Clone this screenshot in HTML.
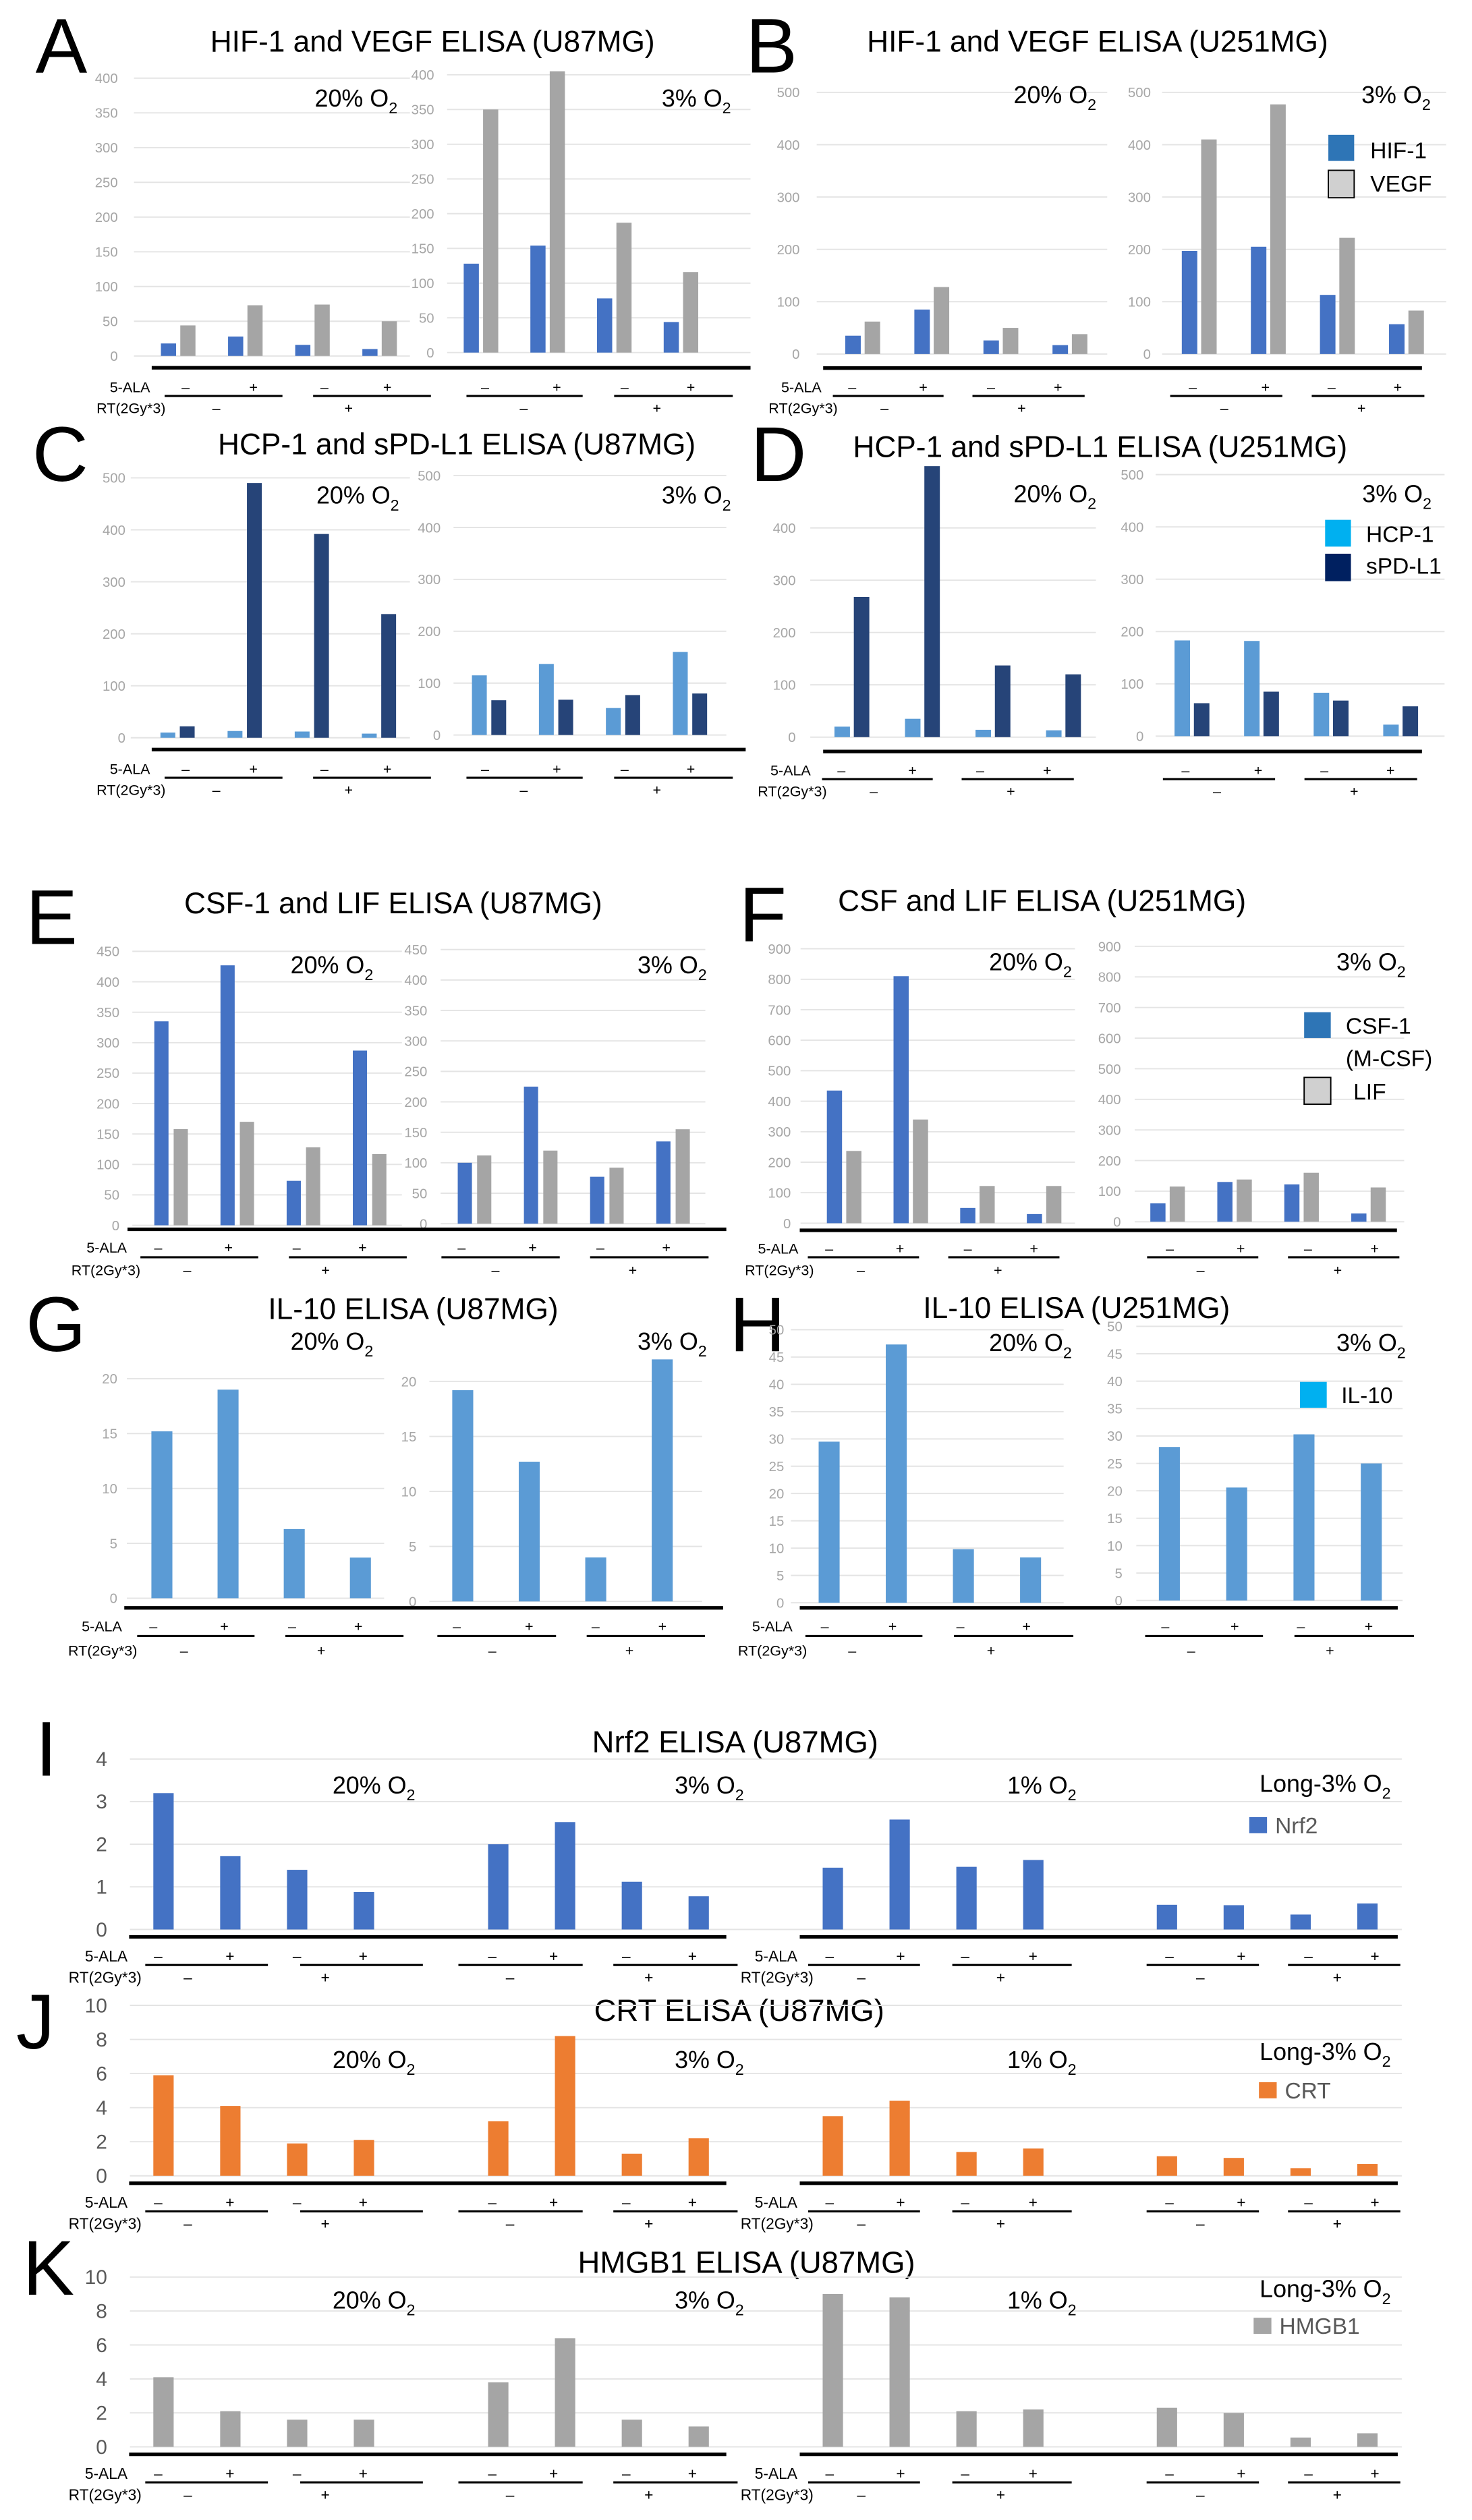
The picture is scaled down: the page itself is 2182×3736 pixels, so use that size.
<!DOCTYPE html>
<html><head><meta charset="utf-8"><style>
html,body{margin:0;padding:0;background:#fff;}
svg{display:block;font-family:"Liberation Sans",sans-serif;}
</style></head><body>
<svg id="fig" xmlns="http://www.w3.org/2000/svg" width="2182" height="3736" viewBox="0 0 912 1561" preserveAspectRatio="none"></svg>
<script>
// ---- data ----
const groupCategories = ["5-ALA- RT-","5-ALA+ RT-","5-ALA- RT+","5-ALA+ RT+"];
const aHif20 = [18,28,16,10];   const aVegf20 = [44,73,74,50];
const aHif3 = [128,154,78,44];  const aVegf3 = [350,405,187,116];
const bHif20 = [35,85,26,17];   const bVegf20 = [62,128,50,38];
const bHif3 = [197,205,113,57]; const bVegf3 = [410,477,222,83];
const cHcp20 = [10,13,12,8];    const cPd20 = [22,490,392,238];
const cHcp3 = [115,137,52,160]; const cPd3 = [67,68,77,80];
const dHcp20 = [20,35,14,13];   const dPd20 = [268,518,137,120];
const dHcp3 = [183,182,83,22];  const dPd3 = [63,85,68,57];
const eCsf20 = [335,427,73,287];const eLif20 = [158,170,128,117];
const eCsf3 = [100,225,77,135]; const eLif3 = [112,120,92,155];
const fCsf20 = [435,810,50,30]; const fLif20 = [237,340,122,122];
const fCsf3 = [60,130,122,27];  const fLif3 = [115,138,160,112];
const gIl20 = [15.2,19,6.3,3.7];const gIl3 = [19.2,12.7,4,22];
const hIl20 = [29.5,47.3,9.8,8.3]; const hIl3 = [28,20.6,30.3,25];
const iNrf20 = [3.2,1.72,1.4,0.88]; const iNrf3 = [2,2.52,1.12,0.78];
const iNrf1 = [1.45,2.58,1.47,1.63]; const iNrfL = [0.58,0.57,0.35,0.61];
const jCrt20 = [5.9,4.1,1.9,2.1]; const jCrt3 = [3.2,8.2,1.3,2.2];
const jCrt1 = [3.5,4.4,1.4,1.6]; const jCrtL = [1.15,1.05,0.45,0.7];
const kHm20 = [4.1,2.1,1.6,1.6]; const kHm3 = [3.8,6.4,1.6,1.2];
const kHm1 = [9,8.8,2.1,2.2];   const kHmL = [2.3,2,0.55,0.8];
const ticks400 = [0,50,100,150,200,250,300,350,400];
const ticks500 = [0,100,200,300,400,500];
const ticksD = [0,100,200,300,400];
const ticks450 = [0,50,100,150,200,250,300,350,400,450];
const ticks900 = [0,100,200,300,400,500,600,700,800,900];
const ticks20 = [0,5,10,15,20];
const ticks50 = [0,5,10,15,20,25,30,35,40,45,50];
const ticks4 = [0,1,2,3,4];
const ticks10 = [0,2,4,6,8,10];

const NS = "http://www.w3.org/2000/svg";
const svg = document.getElementById("fig");
function mk(tag, attrs, name, inter) {
  const e = document.createElementNS(NS, tag);
  for (const k in attrs) e.setAttribute(k, attrs[k]);
  
  
  svg.appendChild(e);
  return e;
}
function txt(x, y, s, size, name, opts) {
  opts = opts || {};
  const t = mk("text", {x: x, y: y, "font-size": size, fill: opts.fill || "#000", "text-anchor": opts.anchor || "start"}, name, false);
  t.textContent = s;
  return t;
}
function o2(x, y, pct, size, name) {
  const t = mk("text", {x: x, y: y, "font-size": size, fill: "#000"}, name, false);
  t.textContent = pct + " O";
  const sub = document.createElementNS(NS, "tspan");
  sub.setAttribute("font-size", size * 0.65);
  sub.setAttribute("dy", size * 0.28);
  sub.textContent = "2";
  t.appendChild(sub);
}
function subplot(p) {
  const ys = v => p.y0 - v / p.max * (p.y0 - p.yTop);
  p.ticks.forEach(tv => {
    mk("line", {x1: p.gl, x2: p.gr, y1: ys(tv), y2: ys(tv), stroke: "#e4e4e4", "stroke-width": 0.8}, "gridline", false);
    txt(p.lx, ys(tv) + p.fs * 0.36, String(tv), p.fs, "y-tick-label", {anchor: "end", fill: p.tc || "#a6a6a6"});
  });
  const n = p.series.length;
  p.series.forEach((vals, si) => {
    vals.forEach((v, gi) => {
      const cx = p.x1 + gi * p.gap + (n === 2 ? (si === 0 ? -6 : 6) : 0);
      mk("rect", {x: cx - p.bw / 2, y: ys(v), width: p.bw, height: p.y0 - ys(v), fill: p.colors[si]}, "bar", false);
    });
  });
}
function treat(o) {
  const fs = o.fs || 9;
  if (o.lab) {
    txt(o.lab[0], o.sY, "5-ALA", fs, "5-ala-row-label", {anchor: "end"});
    txt(o.lab[1], o.rtY, "RT(2Gy*3)", fs, "rt-row-label", {anchor: "end"});
  }
  o.signs.forEach((x, i) => txt(x, o.sY, i % 2 ? "+" : "–", fs, "5-ala-sign", {anchor: "middle"}));
  o.ul.forEach(u => mk("line", {x1: u[0], x2: u[1], y1: o.ulY, y2: o.ulY, stroke: "#000", "stroke-width": 1.3}, "treatment-underline", false));
  o.rt.forEach((x, i) => txt(x, o.rtY, i ? "+" : "–", fs, "rt-sign", {anchor: "middle"}));
}
function thick(x1, x2, y) { mk("line", {x1: x1, x2: x2, y1: y, y2: y, stroke: "#000", "stroke-width": 2.2}, "baseline-bar", false); }
function legend(x, y, w, h, color, label, tx, ty, fs, stroke, tcol) {
  mk("rect", {x: x, y: y, width: w, height: h, fill: color, stroke: stroke || "none", "stroke-width": 0.8}, "legend-swatch", false);
  txt(tx, ty, label, fs, "legend-label", {fill: tcol || "#000"});
}
function letter(x, y, s) { txt(x, y, s, 48, "panel-letter"); }
function shiftT(o, dx, dy) {
  return {signs: o.signs.map(v => v + dx), ul: o.ul.map(u => [u[0] + dx, u[1] + dx]), rt: o.rt.map(v => v + dx),
    sY: o.sY + dy, ulY: o.ulY + dy, rtY: o.rtY + dy, lab: o.lab ? [o.lab[0] + dx, o.lab[1] + dx] : null};
}

const BL = "#4472c4", GR = "#a5a5a5", LB = "#5b9bd5", NV = "#264478", OR = "#ed7d31";
const TF = 18.5, OF = 15, KF = 8.5;

// ---- Panel A ----
letter(22, 45, "A");
txt(268, 32, "HIF-1 and VEGF ELISA (U87MG)", TF, "panel-a-title", {anchor: "middle"});
subplot({lx: 73, gl: 83, gr: 254, y0: 220.5, yTop: 48.4, max: 400, ticks: ticks400, fs: KF, x1: 110.4, gap: 41.6, bw: 9.4, series: [aHif20, aVegf20], colors: [BL, GR]});
subplot({lx: 269, gl: 277, gr: 465, y0: 218.4, yTop: 46.3, max: 400, ticks: ticks400, fs: KF, x1: 298, gap: 41.3, bw: 9.4, series: [aHif3, aVegf3], colors: [BL, GR]});
o2(195, 66, "20%", OF, "o2-label"); o2(410, 66, "3%", OF, "o2-label");
thick(94, 465, 227.8);
const tAL = {signs: [115,157,201,240], ul: [[102,175],[194,267]], rt: [134,216], sY: 243, ulY: 245.3, rtY: 256, lab: [93,102.6]};
const tAR = {signs: [300.5,345,387,428], ul: [[289,361],[380.5,454]], rt: [324.5,407], sY: 243, ulY: 245.3, rtY: 256};
treat(tAL); treat(tAR);

// ---- Panel B ----
letter(462, 45, "B");
txt(680, 32, "HIF-1 and VEGF ELISA (U251MG)", TF, "panel-b-title", {anchor: "middle"});
subplot({lx: 495.5, gl: 506, gr: 686, y0: 219.3, yTop: 57.2, max: 500, ticks: ticks500, fs: KF, x1: 534.5, gap: 42.8, bw: 9.6, series: [bHif20, bVegf20], colors: [BL, GR]});
subplot({lx: 713, gl: 720, gr: 896, y0: 219.3, yTop: 57.2, max: 500, ticks: ticks500, fs: KF, x1: 743, gap: 42.8, bw: 9.6, series: [bHif3, bVegf3], colors: [BL, GR]});
o2(628, 64, "20%", OF, "o2-label"); o2(843.5, 64, "3%", OF, "o2-label");
legend(823, 83.5, 16, 16.2, "#2e75b6", "HIF-1", 849, 98, 14);
legend(823, 105.5, 16, 17, "#d0d0d0", "VEGF", 849, 118.7, 14, "#000");
thick(510, 881, 228);
const tBL = {signs: [528,572,614,655.5], ul: [[516,584.6],[602.5,672]], rt: [548,633], sY: 243, ulY: 245.3, rtY: 256, lab: [509,519]};
const tBR = {signs: [739,784,825,866], ul: [[725,794.5],[812.7,882.5]], rt: [758.5,843.5], sY: 243, ulY: 245.3, rtY: 256};
treat(tBL); treat(tBR);

// ---- Panel C ----
letter(20, 298, "C");
txt(283, 281.5, "HCP-1 and sPD-L1 ELISA (U87MG)", TF, "panel-c-title", {anchor: "middle"});
subplot({lx: 77.7, gl: 81, gr: 254, y0: 457, yTop: 296, max: 500, ticks: ticks500, fs: KF, x1: 110, gap: 41.6, bw: 9.2, series: [cHcp20, cPd20], colors: [LB, NV]});
subplot({lx: 273, gl: 281, gr: 450, y0: 455.3, yTop: 294.6, max: 500, ticks: ticks500, fs: KF, x1: 303, gap: 41.5, bw: 9.2, series: [cHcp3, cPd3], colors: [LB, NV]});
o2(196, 312, "20%", OF, "o2-label"); o2(410, 312, "3%", OF, "o2-label");
thick(94, 462, 464.3);
treat(shiftT(tAL, 0, 236.5)); treat(shiftT(tAR, 0, 236.5));

// ---- Panel D ----
letter(465, 298, "D");
txt(681.6, 283, "HCP-1 and sPD-L1 ELISA (U251MG)", TF, "panel-d-title", {anchor: "middle"});
subplot({lx: 493, gl: 502, gr: 679, y0: 456.6, yTop: 294.6, max: 500, ticks: ticksD, fs: KF, x1: 527.8, gap: 43.7, bw: 9.6, series: [dHcp20, dPd20], colors: [LB, NV]});
subplot({lx: 708.6, gl: 716, gr: 895, y0: 456, yTop: 294, max: 500, ticks: ticks500, fs: KF, x1: 738.5, gap: 43.1, bw: 9.6, series: [dHcp3, dPd3], colors: [LB, NV]});
o2(628, 311, "20%", OF, "o2-label"); o2(844, 311, "3%", OF, "o2-label");
legend(821, 322, 16, 16.6, "#00b0f0", "HCP-1", 846.4, 335.7, 14);
legend(821, 343, 16, 17, "#002060", "sPD-L1", 846.4, 355.3, 14);
thick(510, 881, 465.5);
treat(shiftT(tBL, -6.7, 237.3)); treat(shiftT(tBR, -4.5, 237.3));

// ---- Panel E ----
letter(16, 584.8, "E");
txt(243.6, 565.7, "CSF-1 and LIF ELISA (U87MG)", TF, "panel-e-title", {anchor: "middle"});
subplot({lx: 74, gl: 82, gr: 249, y0: 759, yTop: 589.3, max: 450, ticks: ticks450, fs: KF, x1: 106, gap: 41, bw: 8.8, series: [eCsf20, eLif20], colors: [BL, GR]});
subplot({lx: 264.7, gl: 273, gr: 437, y0: 758, yTop: 588.2, max: 450, ticks: ticks450, fs: KF, x1: 294, gap: 41, bw: 8.8, series: [eCsf3, eLif3], colors: [BL, GR]});
o2(180, 603, "20%", OF, "o2-label"); o2(395, 603, "3%", OF, "o2-label");
thick(79, 450, 761.5);
treat({signs: [98,141.6,183.8,224.6], ul: [[87,160],[179,252]], rt: [116,201.7], sY: 776, ulY: 778.8, rtY: 790, lab: [78.6,87]});
treat({signs: [286,330,372,412.8], ul: [[273.5,346.8],[365.6,439]], rt: [307,392], sY: 776, ulY: 778.8, rtY: 790});

// ---- Panel F ----
letter(458, 583, "F");
txt(645.6, 564.2, "CSF and LIF ELISA (U251MG)", TF, "panel-f-title", {anchor: "middle"});
subplot({lx: 490, gl: 496, gr: 666, y0: 757.7, yTop: 587.7, max: 900, ticks: ticks900, fs: KF, x1: 523, gap: 41.3, bw: 9.4, series: [fCsf20, fLif20], colors: [BL, GR]});
subplot({lx: 694.5, gl: 703, gr: 870, y0: 756.8, yTop: 586.2, max: 900, ticks: ticks900, fs: KF, x1: 723.4, gap: 41.5, bw: 9.4, series: [fCsf3, fLif3], colors: [BL, GR]});
o2(612.8, 601, "20%", OF, "o2-label"); o2(828, 601, "3%", OF, "o2-label");
legend(808, 627, 16.5, 16, "#2e75b6", "CSF-1", 833.8, 640.4, 14);
txt(833.8, 660.4, "(M-CSF)", 14, "legend-label-2");
legend(808, 667.4, 16.5, 16.6, "#d0d0d0", "LIF", 838.5, 681, 14, "#000");
thick(495.5, 865.5, 762.1);
treat({signs: [513.7,557.6,599.6,640.6], ul: [[500.5,569.4],[587.5,656.4]], rt: [533.3,618.3], sY: 776.5, ulY: 778.8, rtY: 790, lab: [494.6,504.3]});
treat({signs: [724.8,768.7,810.4,851.7], ul: [[710.7,779.6],[798,867]], rt: [743.8,828.8], sY: 776.5, ulY: 778.8, rtY: 790});

// ---- Panel G ----
letter(16, 837, "G");
txt(256, 817, "IL-10 ELISA (U87MG)", TF, "panel-g-title", {anchor: "middle"});
subplot({lx: 72.7, gl: 78.6, gr: 238, y0: 990, yTop: 854, max: 20, ticks: ticks20, fs: KF, x1: 100.3, gap: 41, bw: 13, series: [gIl20], colors: [LB]});
subplot({lx: 258, gl: 266, gr: 435, y0: 992, yTop: 855.7, max: 20, ticks: ticks20, fs: KF, x1: 286.7, gap: 41.2, bw: 13, series: [gIl3], colors: [LB]});
o2(180, 836, "20%", OF, "o2-label"); o2(395, 836, "3%", OF, "o2-label");
thick(77, 448, 996);
treat({signs: [95,139,181,222], ul: [[85,157.7],[176.8,250]], rt: [114,199], sY: 1010.5, ulY: 1013.4, rtY: 1025.5, lab: [75.6,85]});
treat({signs: [283,327.8,369,410.4], ul: [[271,344.5],[363.5,436.8]], rt: [305,390], sY: 1010.5, ulY: 1013.4, rtY: 1025.5});

// ---- Panel H ----
letter(452, 836.9, "H");
txt(667, 816.4, "IL-10 ELISA (U251MG)", TF, "panel-h-title", {anchor: "middle"});
subplot({lx: 485.8, gl: 490, gr: 659, y0: 992.8, yTop: 823.7, max: 50, ticks: ticks50, fs: KF, x1: 513.7, gap: 41.6, bw: 13, series: [hIl20], colors: [LB]});
subplot({lx: 695.4, gl: 704, gr: 869, y0: 991.4, yTop: 821.6, max: 50, ticks: ticks50, fs: KF, x1: 724.5, gap: 41.7, bw: 13, series: [hIl3], colors: [LB]});
o2(612.8, 837, "20%", OF, "o2-label"); o2(828, 837, "3%", OF, "o2-label");
legend(805.4, 856, 16.6, 16, "#00b0f0", "IL-10", 831, 869, 14);
thick(495.5, 866, 996);
treat({signs: [511,553,595,636], ul: [[499,571.5],[591,665]], rt: [528,614], sY: 1010.5, ulY: 1013.4, rtY: 1025.5, lab: [491,500]});
treat({signs: [722,765,806,848], ul: [[709.5,782.5],[802,876]], rt: [738,824], sY: 1010.5, ulY: 1013.4, rtY: 1025.5});

// ---- Panels I, J, K ----
const wideX = [101.3, 308.7, 516, 723];
const wideT = [
  {signs: [98,142.5,184,225], ul: [[90,166],[186,262]], rt: [116.4,201.5]},
  {signs: [305,343,388,429], ul: [[284,361],[380,457]], rt: [316,402]},
  {signs: [514,558,598,640], ul: [[500.7,570],[590,664]], rt: [533.6,620]},
  {signs: [724.6,769,810.7,851.8], ul: [[710.4,780],[798,867.6]], rt: [743.7,828.5]}
];
function wide(p) {
  txt(p.lxp, p.lyb, p.L, 48, "panel-letter");
  txt(p.tx, p.ty, p.title, 19, "panel-title", {anchor: "middle"});
  const ys = v => p.y0 - v / p.max * (p.y0 - p.yTop);
  p.ticks.forEach(tv => {
    mk("line", {x1: 80.5, x2: 868.5, y1: ys(tv), y2: ys(tv), stroke: "#e4e4e4", "stroke-width": 0.8}, "gridline", false);
    txt(66.4, ys(tv) + 4.3, String(tv), 12.5, "y-tick-label", {anchor: "end", fill: "#595959"});
  });
  p.sets.forEach((vals, ci) => {
    vals.forEach((v, gi) => {
      const cx = wideX[ci] + gi * 41.4;
      mk("rect", {x: cx - 6.3, y: ys(v), width: 12.6, height: p.y0 - ys(v), fill: p.color}, "bar", false);
    });
  });
  o2(206, p.oy, "20%", OF, "o2-label"); o2(418, p.oy, "3%", OF, "o2-label");
  o2(624, p.oy, "1%", OF, "o2-label"); o2(780.4, p.ly2, "Long-3%", OF, "o2-label");
  legend(p.legx, p.legy, 11, 10, p.color, p.leg, p.legx + 16, p.legy + 10, 14, null, "#595959");
  thick(80, 450, p.y0 + 4.6); thick(495.5, 866, p.y0 + 4.6);
  wideT.forEach((t, i) => {
    treat({signs: t.signs, ul: t.ul, rt: t.rt, sY: p.y0 + 19.8, ulY: p.y0 + 22, rtY: p.y0 + 33,
      lab: i === 0 ? [79, 87.7] : (i === 2 ? [494, 504] : null), fs: 9.5});
  });
}
wide({L: "I", lxp: 22, lyb: 1100, title: "Nrf2 ELISA (U87MG)", tx: 455.5, ty: 1085.5, y0: 1195.2, yTop: 1089.6, max: 4, ticks: ticks4, sets: [iNrf20, iNrf3, iNrf1, iNrfL], color: BL, oy: 1111, ly2: 1110, legx: 774, legy: 1125.6, leg: "Nrf2"});
wide({L: "J", lxp: 10, lyb: 1269, title: "CRT ELISA (U87MG)", tx: 458, ty: 1251.8, y0: 1347.8, yTop: 1242.2, max: 10, ticks: ticks10, sets: [jCrt20, jCrt3, jCrt1, jCrtL], color: OR, oy: 1281, ly2: 1276, legx: 780, legy: 1289.8, leg: "CRT"});
wide({L: "K", lxp: 14, lyb: 1421.5, title: "HMGB1 ELISA (U87MG)", tx: 462.5, ty: 1407.8, y0: 1515.7, yTop: 1410.5, max: 10, ticks: ticks10, sets: [kHm20, kHm3, kHm1, kHmL], color: GR, oy: 1430, ly2: 1423, legx: 776.7, legy: 1435.7, leg: "HMGB1"});
</script>
</body></html>
